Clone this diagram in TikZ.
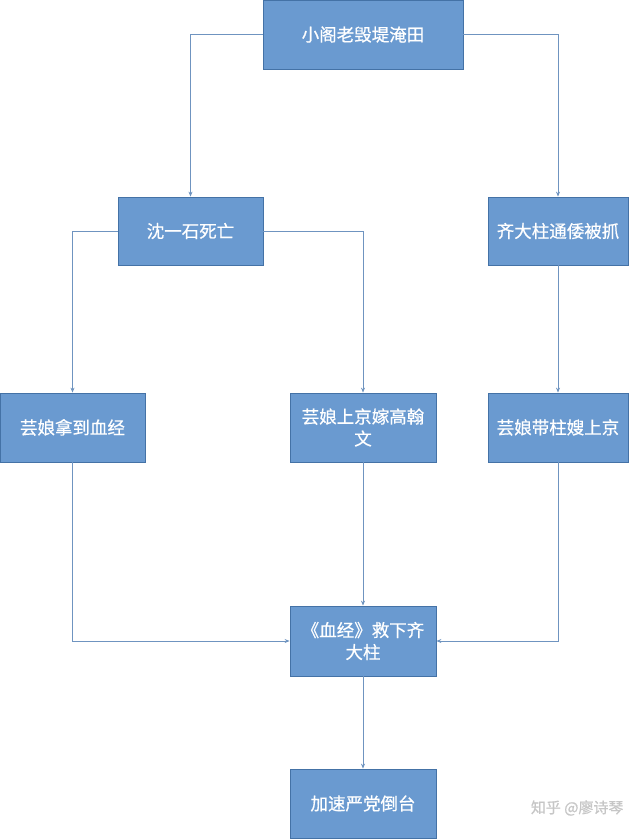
\documentclass[tikz,border=0pt]{standalone}
\usepackage{fontspec}
\newfontfamily\cjk[FakeBold=0.6]{Noto Sans CJK SC}
\usetikzlibrary{arrows.meta}
\definecolor{boxfill}{HTML}{6A9AD0}
\definecolor{boxline}{HTML}{4472A6}
\definecolor{linkc}{HTML}{6F94C0}
\tikzset{
  box/.style={draw=boxline, line width=0.8pt, fill=boxfill, text=white, font=\cjk\fontsize{17.5}{22}\selectfont, align=center, inner sep=0pt},
  link/.style={draw=linkc, line width=0.7pt, -{Stealth[length=5pt,width=4pt]}}
}
\begin{document}
\begin{tikzpicture}[x=1pt,y=-1pt]
\useasboundingbox[fill=white] (0,0) rectangle (633,839);
\node[box, minimum width=200pt, minimum height=69pt] (top) at (363,34.5) {小阁老毁堤淹田};
\node[box, minimum width=145pt, minimum height=68pt] (shen) at (190.5,231) {沈一石死亡};
\node[box, minimum width=140pt, minimum height=68pt] (qi) at (558,231) {齐大柱通倭被抓};
\node[box, minimum width=145pt, minimum height=69pt] (yn1) at (72.5,427.5) {芸娘拿到血经};
\node[box, minimum width=146pt, minimum height=69pt] (yn2) at (363,427.5) {芸娘上京嫁高翰\\文};
\node[box, minimum width=140pt, minimum height=69pt] (yn3) at (558,427.5) {芸娘带柱嫂上京};
\node[box, minimum width=146pt, minimum height=70pt] (xj) at (363,641) {《血经》救下齐\\大柱};
\node[box, minimum width=146pt, minimum height=69pt] (js) at (363,803.5) {加速严党倒台};
\node[text=gray!45, font=\cjk\fontsize{15}{18}\selectfont, anchor=east] (wm) at (627,808) {知乎 @廖诗琴};
\draw[link] (top.west) -| (shen.north);
\draw[link] (top.east) -| (qi.north);
\draw[link] (shen.west) -| (yn1.north);
\draw[link] (shen.east) -| (yn2.north);
\draw[link] (qi.south) -- (yn3.north);
\draw[link] (yn1.south) |- (xj.west);
\draw[link] (yn2.south) -- (xj.north);
\draw[link] (yn3.south) |- (xj.east);
\draw[link] (xj.south) -- (js.north);
\end{tikzpicture}
\end{document}
